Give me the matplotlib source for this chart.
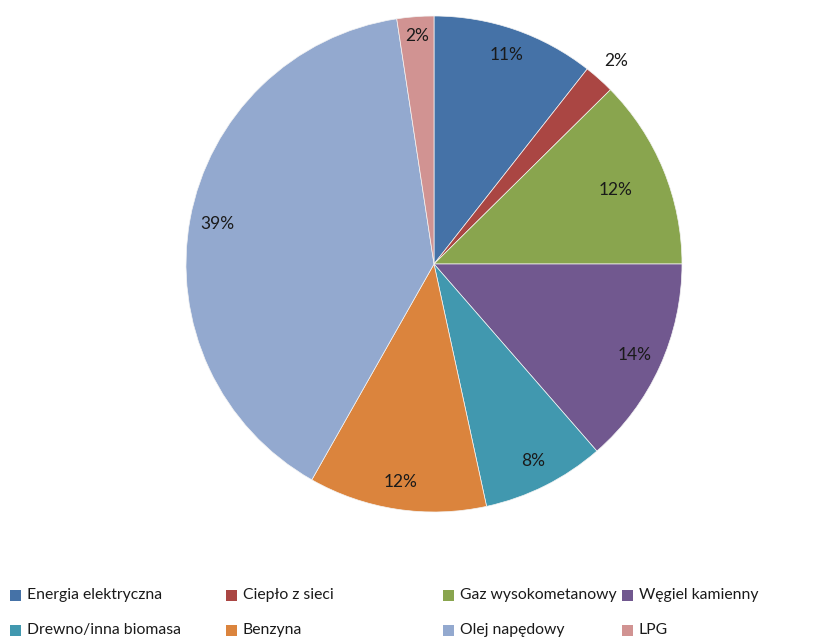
import matplotlib
matplotlib.use("Agg")
import matplotlib.pyplot as plt
import numpy as np
from matplotlib.patches import Rectangle

plt.rcParams['font.family'] = ['Lato', 'DejaVu Sans']

# share of each energy carrier
categories = ["Energia elektryczna", "Ciepło z sieci", "Gaz wysokometanowy", "Węgiel kamienny",
              "Drewno/inna biomasa", "Benzyna", "Olej napędowy", "LPG"]
values = [10.6, 2.0, 12.4, 13.6, 8.0, 11.6, 39.4, 2.4]
colors = ["#4572A7", "#AA4643", "#89A54E", "#71588F", "#4198AF", "#DB843D", "#93A9CF", "#D19392"]

fig = plt.figure(figsize=(8.17, 6.4), dpi=100)
ax = fig.add_axes([186 / 817, 128 / 640, 496 / 817, 496 / 640])

wedges, texts, autotexts = ax.pie(values, colors=colors, startangle=90, counterclock=False,
                                  autopct='%.0f%%', pctdistance=0.89,
                                  wedgeprops=dict(linewidth=0.5, edgecolor='#f4f4f4'),
                                  textprops=dict(fontsize=12.5, color='#1a1a1a'))
# label distances tweaked to follow Excel's "best fit" placement
dist = [0.89, 1.1, 0.79, 0.89, 0.89, 0.89, 0.89, 0.92]
for t, d in zip(autotexts, dist):
    t.set_position(np.array(t.get_position()) / 0.89 * d)
ax.set_xlim(-1, 1)
ax.set_ylim(-1, 1)
ax.set_aspect('equal')
ax.axis('off')

# legend drawn by hand to mimic the uneven Excel columns
col_x = [10, 226, 443, 622]
row_y = [595, 630]
for i, (name, c) in enumerate(zip(categories, colors)):
    r, col = divmod(i, 4)
    x = col_x[col]
    y = row_y[r]
    fig.patches.append(Rectangle((x / 817, (640 - y - 5.5) / 640), 11 / 817, 11 / 640,
                                 transform=fig.transFigure, facecolor=c, edgecolor='none'))
    fig.text((x + 17) / 817, (640 - y) / 640, name, fontsize=11.3, va='center', ha='left',
             color='#1a1a1a')

fig.savefig("out.png", dpi=100)
